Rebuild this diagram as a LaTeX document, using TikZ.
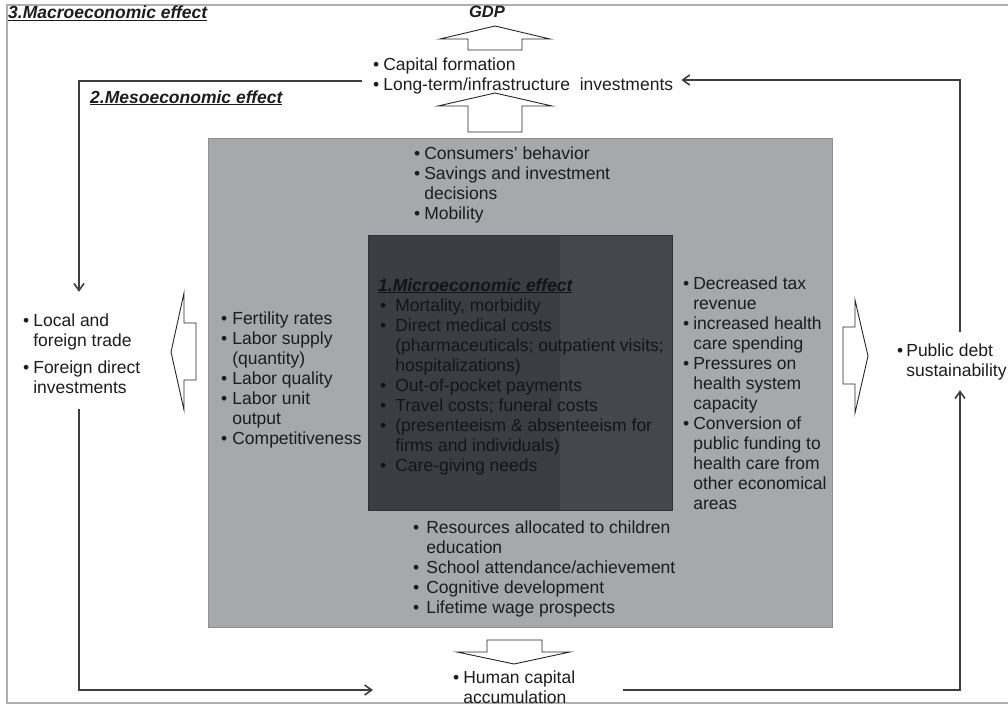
\documentclass[tikz,border=0pt]{standalone}
\usepackage{fontspec}
\usepackage{array}
\setmainfont{Liberation Sans}
\usetikzlibrary{arrows.meta}
\definecolor{mesofill}{RGB}{166,168,171}
\definecolor{microL}{RGB}{58,61,66}
\definecolor{microR}{RGB}{68,71,76}
\definecolor{microtext}{RGB}{20,20,24}
\definecolor{ink}{RGB}{28,28,28}
\definecolor{conncol}{RGB}{62,62,62}
\definecolor{framecol}{RGB}{175,175,175}
\newcommand\blist[2]{\begin{tabular}[t]{@{}l@{\hspace{#1}}l@{}}#2\end{tabular}}
\newcommand\mblist[2]{\begin{tabular}[t]{@{}>{\color{microtext}}l@{\hspace{#1}}>{\color{microtext}}l@{}}#2\end{tabular}}
\newcommand\bu{\textbullet}
\begin{document}
\begin{tikzpicture}[x=1pt,y=-1pt,
  txt/.style={inner sep=0pt, anchor=base west, text=ink, font=\fontsize{17.5}{20}\selectfont},
  mtxt/.style={txt, text=microtext},
  ttl/.style={txt, font=\fontsize{17.5}{20}\selectfont\bfseries\itshape},
  conn/.style={draw=conncol, line width=1.6pt, -{Straight Barb[length=7pt,width=10pt]}},
  blk/.style={draw=black!85, line width=0.9pt, fill=white, line join=miter},
  frm/.style={draw=framecol, line width=1.2pt}]
\useasboundingbox (0,0) rectangle (1008,706);
% outer frame (macro level)
\draw[frm] (1014,5) -- (7,5) -- (7,703) -- (1014,703);
% meso box
\draw[fill=mesofill, draw=mesofill!85!black, line width=0.8pt] (208,138) rectangle (832,627);
% micro box
\fill[microL] (368,235) rectangle (672,510);
\fill[microR] (560,235) rectangle (672,510);
\draw[draw=microL!80!black, line width=0.6pt] (368,235) rectangle (672,510);
% labels
\node[ttl] (macro) at (8,19) {\underline{3.Macroeconomic effect}};
\node[ttl] (meso) at (90,103) {\underline{2.Mesoeconomic effect}};
\node[txt, anchor=base, font=\fontsize{16.5}{19}\selectfont\bfseries\itshape] (gdp) at (487,18) {GDP};
% lists
\node[txt] (cap) at (373,71) {\blist{4pt}{\bu & Capital formation\\ \bu & Long-term/infrastructure\ \ investments}};
\node[txt] (tm) at (414,159) {\blist{4pt}{\bu & Consumers' behavior\\ \bu & Savings and investment\\ & decisions\\ \bu & Mobility}};
\node[txt] (lm) at (221,324) {\blist{5pt}{\bu & Fertility rates\\ \bu & Labor supply\\ & (quantity)\\ \bu & Labor quality\\ \bu & Labor unit\\ & output\\ \bu & Competitiveness}};
\node[txt] (rm) at (683,289) {\blist{4pt}{\bu & Decreased tax\\ & revenue\\ \bu & increased health\\ & care spending\\ \bu & Pressures on\\ & health system\\ & capacity\\ \bu & Conversion of\\ & public funding to\\ & health care from\\ & other economical\\ & areas}};
\node[txt] (bm) at (413,533) {\blist{7pt}{\bu & Resources allocated to children\\ & education\\ \bu & School attendance/achievement\\ \bu & Cognitive development\\ \bu & Lifetime wage prospects}};
\node[mtxt, font=\fontsize{17.5}{20}\selectfont\bfseries\itshape] (mtitle) at (378,291) {\underline{1.Microeconomic effect}};
\node[mtxt] (mlist) at (380,311) {\mblist{9pt}{\bu & Mortality, morbidity\\ \bu & Direct medical costs\\ & (pharmaceuticals; outpatient visits;\\ & hospitalizations)\\ \bu & Out-of-pocket payments\\ \bu & Travel costs; funeral costs\\ \bu & (presenteeism \& absenteeism for\\ & firms and individuals)\\ \bu & Care-giving needs}};
\node[txt] (loc) at (23,326) {\blist{4pt}{\bu & Local and\\ & foreign trade\\[7pt] \bu & Foreign direct\\ & investments}};
\node[txt] (pub) at (897,356) {\blist{3pt}{\bu & Public debt\\ & sustainability}};
\node[txt] (hum) at (453,683) {\blist{4pt}{\bu & Human capital\\ & accumulation}};
% hollow block arrows
\draw[blk] (468,50) -- (468,39) -- (440,39) -- (495,26) -- (550,39) -- (522,39) -- (522,50) -- cycle;
\draw[blk] (468,132) -- (468,106) -- (438,106) -- (495,93) -- (552,106) -- (522,106) -- (522,132) -- cycle;
\draw[blk] (487,640) -- (542,640) -- (542,652) -- (570,652) -- (514,664) -- (457,652) -- (487,652) -- cycle;
\draw[blk] (196,323) -- (184,323) -- (184,293) -- (171,352) -- (184,410) -- (184,380) -- (196,380) -- cycle;
\draw[blk] (843,327) -- (855,327) -- (855,300) -- (868,356) -- (855,413) -- (855,384) -- (843,384) -- cycle;
% connectors
\coordinate (k1) at (79,81);
\coordinate (k2) at (79,690);
\coordinate (k3) at (960,690);
\coordinate (k4) at (960,80);
\draw[conn, shorten <=11pt, shorten >=20pt] (cap.west |- k1) -- (k1) -- (k1 |- loc.north);
\draw[conn, shorten <=10pt, shorten >=80pt] (k2 |- loc.south) -- (k2) -- (hum.west |- k2);
\draw[conn, shorten <=48pt, shorten >=8pt] (hum.east |- k3) -- (k3) -- (k3 |- pub.south);
\draw[conn, shorten <=10pt, shorten >=8pt] (k4 |- pub.north) -- (k4) -- (cap.east |- k4);
\end{tikzpicture}
\end{document}
